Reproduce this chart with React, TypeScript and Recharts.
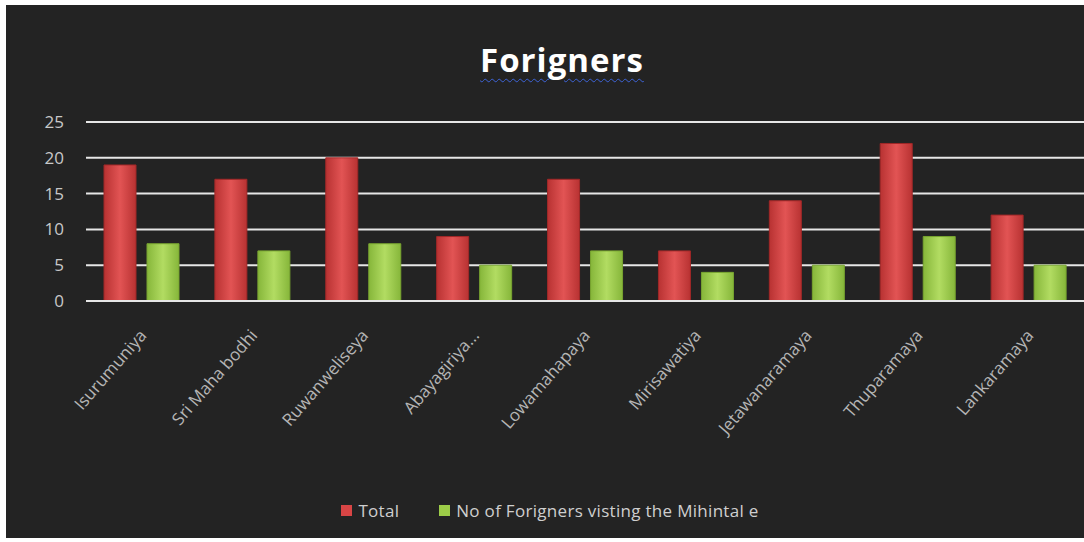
import React from 'react';
import { BarChart, Bar, XAxis, YAxis, CartesianGrid, Legend } from 'recharts';

const sites = [
  'Isurumuniya',
  'Sri Maha bodhi',
  'Ruwanweliseya',
  'Abayagiriya...',
  'Lowamahapaya',
  'Mirisawatiya',
  'Jetawanaramaya',
  'Thuparamaya',
  'Lankaramaya',
];
const totals = [19, 17, 20, 9, 17, 7, 14, 22, 12];
const mihintale = [8, 7, 8, 5, 7, 4, 5, 9, 5];
const yTicks = [0, 5, 10, 15, 20, 25];

const TOTAL_NAME = 'Total';
const MIHINTALE_NAME = 'No of Forigners visting the Mihintal e';

const rows = sites.map((site, i) => ({
  site,
  total: totals[i],
  mihintale: mihintale[i],
}));

const AngledTick = (props: any) => {
  const { x, y, payload } = props;
  return (
    <g transform={`translate(${x + 6},${y + 27})`}>
      <text
        transform="rotate(-49)"
        textAnchor="end"
        fill="#b5b5b5"
        fontSize={17}
        fontFamily="'Open Sans', sans-serif"
      >
        {payload.value}
      </text>
    </g>
  );
};

const LegendBox = () => (
  <div
    style={{
      display: 'flex',
      justifyContent: 'center',
      gap: 40,
      fontFamily: "'Open Sans', sans-serif",
      fontSize: 17,
      letterSpacing: 0.3,
      color: '#cfcfcf',
      paddingLeft: 10,
    }}
  >
    <span style={{ display: 'flex', alignItems: 'center', gap: 6 }}>
      <span style={{ width: 11, height: 11, background: '#d84545' }} />
      {TOTAL_NAME}
    </span>
    <span style={{ display: 'flex', alignItems: 'center', gap: 6 }}>
      <span style={{ width: 11, height: 11, background: '#9ccc48' }} />
      {MIHINTALE_NAME}
    </span>
  </div>
);

export default function App() {
  return (
    <div
      style={{
        position: 'absolute',
        left: 0,
        top: 0,
        width: 1084,
        height: 542,
        background: '#ffffff',
      }}
    >
      <div
        style={{
          position: 'absolute',
          left: 6,
          top: 5,
          width: 1078,
          height: 533,
          background: '#232323',
        }}
      >
        <div
          style={{
            position: 'absolute',
            top: 32,
            left: 0,
            width: 1112,
            textAlign: 'center',
            fontFamily: "'Open Sans', sans-serif",
            fontWeight: 700,
            fontSize: 33,
            letterSpacing: 1,
            color: '#ffffff',
            textDecoration: 'underline wavy #3d63d6',
            textDecorationThickness: 1,
            textUnderlineOffset: 6,
            zIndex: 2,
          }}
        >
          Forigners
        </div>
        <BarChart
          width={1078}
          height={533}
          data={rows}
          margin={{ top: 117, right: 0, bottom: 0, left: 0 }}
          barSize={32}
          barGap={11}
        >
          <defs>
            <linearGradient id="redBar" x1="0" y1="0" x2="1" y2="0">
              <stop offset="0%" stopColor="#b83232" />
              <stop offset="50%" stopColor="#e25454" />
              <stop offset="100%" stopColor="#b83232" />
            </linearGradient>
            <linearGradient id="greenBar" x1="0" y1="0" x2="1" y2="0">
              <stop offset="0%" stopColor="#86b63a" />
              <stop offset="50%" stopColor="#b2dc62" />
              <stop offset="100%" stopColor="#86b63a" />
            </linearGradient>
          </defs>
          <CartesianGrid
            vertical={false}
            stroke="#e6e6e6"
            strokeWidth={2}
          />
          <XAxis
            dataKey="site"
            interval={0}
            height={214}
            tickLine={false}
            axisLine={{ stroke: '#e6e6e6', strokeWidth: 2 }}
            tick={<AngledTick />}
          />
          <YAxis
            width={80}
            domain={[0, 25]}
            ticks={yTicks}
            tickLine={false}
            axisLine={false}
            tickSize={0}
            tickMargin={22}
            tick={{ fill: '#c8c8c8', fontSize: 17, fontFamily: "'Open Sans', sans-serif" }}
          />
          <Legend
            verticalAlign="bottom"
            content={<LegendBox />}
            wrapperStyle={{ bottom: 16 }}
          />
          <Bar
            dataKey="total"
            name={TOTAL_NAME}
            fill="url(#redBar)"
            stroke="#a02828"
            strokeWidth={1}
            isAnimationActive={false}
          />
          <Bar
            dataKey="mihintale"
            name={MIHINTALE_NAME}
            fill="url(#greenBar)"
            stroke="#78a430"
            strokeWidth={1}
            isAnimationActive={false}
          />
        </BarChart>
      </div>
    </div>
  );
}
